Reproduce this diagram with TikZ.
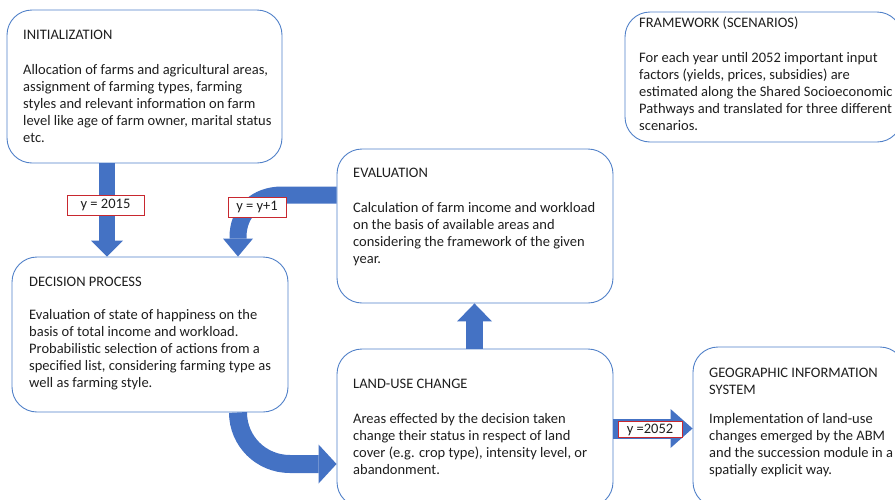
\documentclass[tikz,border=0pt]{standalone}
\usepackage{fontspec}
\setmainfont{Carlito}
\usetikzlibrary{arrows.meta}
\definecolor{boxc}{HTML}{5080C8}
\definecolor{arrowc}{HTML}{4472C4}
\definecolor{labred}{HTML}{C8282F}
\definecolor{textc}{HTML}{1E1E1E}
\begin{document}
\begin{tikzpicture}[x=1pt,y=-1pt,
  box/.style={draw=boxc, line width=0.9pt, rounded corners=25pt, inner sep=0pt},
  txt/.style={anchor=north west, inner sep=0pt, align=left, text=textc, font=\fontsize{14.5}{17}\selectfont},
  blockarrow/.style={draw=arrowc},
  lab/.style={draw=labred, fill=white, line width=1pt, inner sep=0pt, text=textc, font=\fontsize{14.5}{17}\selectfont}
]
\useasboundingbox (0,0) rectangle (895,499);
\clip (0,0) rectangle (895,499);

% boxes
\node[box, minimum width=275pt, minimum height=153pt] (init) at (144.5,86.5) {};
\node[box, minimum width=277pt, minimum height=130pt] (fw) at (763.5,77) {};
\node[box, minimum width=276pt, minimum height=154pt] (eval) at (475,226) {};
\node[box, minimum width=276pt, minimum height=155pt] (dec) at (150,334.5) {};
\node[box, minimum width=276pt, minimum height=158pt] (land) at (475,428) {};
\node[box, minimum width=212pt, minimum height=160pt] (geo) at (799,427) {};

% texts
\node[txt] (initT) at (23,27) {\rule{0pt}{12pt}INITIALIZATION};
\node[txt] (initB) at (23,62) {\rule{0pt}{12pt}Allocation of farms and agricultural areas,\\assignment of farming types, farming\\styles and relevant information on farm\\level like age of farm owner, marital status\\etc.};
\node[txt] (fwT) at (639,15) {\rule{0pt}{12pt}FRAMEWORK (SCENARIOS)};
\node[txt] (fwB) at (639,50) {\rule{0pt}{12pt}For each year until 2052 important input\\factors (yields, prices, subsidies) are\\estimated along the Shared Socioeconomic\\Pathways and translated for three different\\scenarios.};
\node[txt] (evalT) at (353,165) {\rule{0pt}{12pt}EVALUATION};
\node[txt] (evalB) at (353,200) {\rule{0pt}{12pt}Calculation of farm income and workload\\on the basis of available areas and\\considering the framework of the given\\year.};
\node[txt] (decT) at (29,274) {\rule{0pt}{12pt}DECISION PROCESS};
\node[txt] (decB) at (29,307) {\rule{0pt}{12pt}Evaluation of state of happiness on the\\basis of total income and workload.\\Probabilistic selection of actions from a\\specified list, considering farming type as\\well as farming style.};
\node[txt] (landT) at (353,376) {\rule{0pt}{12pt}LAND-USE CHANGE};
\node[txt] (landB) at (353,411) {\rule{0pt}{12pt}Areas effected by the decision taken\\change their status in respect of land\\cover (e.g. crop type), intensity level, or\\abandonment.};
\node[txt] (geoT) at (709,365) {\rule{0pt}{12pt}GEOGRAPHIC INFORMATION\\SYSTEM};
\node[txt] (geoB) at (709,411) {\rule{0pt}{12pt}Implementation of land-use\\changes emerged by the ABM\\and the succession module in a\\spatially explicit way.};

% helper coordinates
\coordinate (xa) at (107,0);
\coordinate (ya) at (0,195);
\coordinate (xb) at (238,0);
\coordinate (yc) at (0,464);
\coordinate (xd) at (474.5,0);
\coordinate (ye) at (0,428.5);

% arrows
\draw[blockarrow, line width=16pt, -{Triangle[width=32pt,length=16pt,line width=0pt]}]
  (init.south -| xa) -- (dec.north -| xa);
\draw[blockarrow, line width=17pt, -{Triangle[width=30pt,length=18pt,line width=0pt]}]
  (eval.west |- ya) -- (282,195) .. controls (256,195) and (238,212) .. (238,237) -- (dec.north -| xb);
\draw[blockarrow, line width=18pt, -{Triangle[width=39pt,length=18pt,line width=0pt]}]
  (dec.south -| xb) .. controls (238,441) and (261,464) .. (290,464) -- (land.west |- yc);
\draw[blockarrow, line width=17pt, -{Triangle[width=35pt,length=18pt,line width=0pt]}]
  (land.north -| xd) -- (eval.south -| xd);
\draw[blockarrow, line width=20pt, -{Triangle[width=39pt,length=22pt,line width=0pt]}]
  (land.east |- ye) -- (geo.west |- ye);

% labels
\node[lab, minimum width=77pt, minimum height=20pt] (l1) at (105.5,205) {y = 2015};
\node[lab, minimum width=58pt, minimum height=20pt] (l2) at (257,207) {y = y+1};
\node[lab, minimum width=64pt, minimum height=16pt] (l3) at (650,429.5) {y =2052};
\end{tikzpicture}
\end{document}
